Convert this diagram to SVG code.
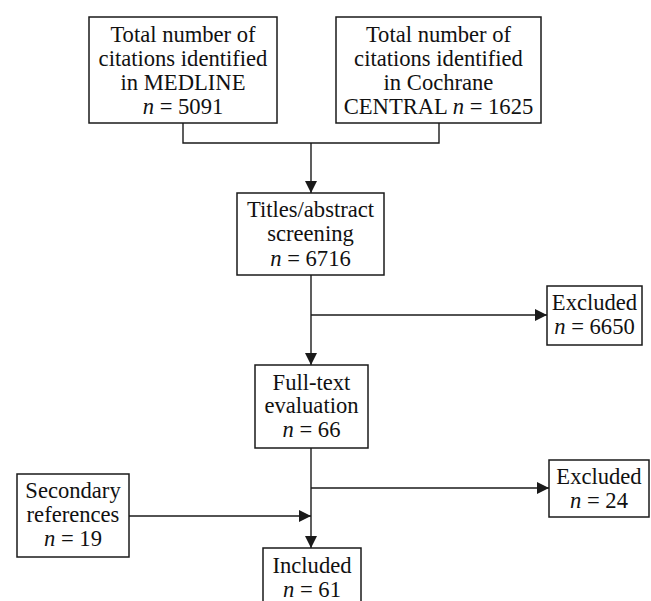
<svg xmlns="http://www.w3.org/2000/svg" width="651" height="601" viewBox="0 0 651 601">
<style>
.box{fill:#fff;stroke:#1a1a1a;stroke-width:1.5}
.t{font-family:"Liberation Serif","Times New Roman",serif;font-size:22.6px;fill:#111;text-anchor:middle}
.i{font-style:italic}
.c{fill:none;stroke:#1a1a1a;stroke-width:1.4}
</style>
<defs>
<marker id="ah" markerUnits="userSpaceOnUse" markerWidth="12" markerHeight="12" refX="12" refY="6" orient="auto">
<path d="M0,0 L12,6 L0,12 Z" fill="#1a1a1a"/>
</marker>
</defs>
<rect width="651" height="601" fill="#fff"/>
<g id="connectors">
<path class="c" d="M183,123 V143 H439 V123"/>
<line class="c" x1="311" y1="143" x2="311" y2="193" marker-end="url(#ah)"/>
<line class="c" x1="311" y1="275" x2="311" y2="365" marker-end="url(#ah)"/>
<line class="c" x1="311" y1="315" x2="547" y2="315" marker-end="url(#ah)"/>
<line class="c" x1="311" y1="448" x2="311" y2="548" marker-end="url(#ah)"/>
<line class="c" x1="311" y1="488" x2="549" y2="488" marker-end="url(#ah)"/>
<line class="c" x1="129" y1="516" x2="311" y2="516" marker-end="url(#ah)"/>
</g>
<g id="medline">
<rect class="box" x="89" y="17" width="188" height="106"/>
<text class="t" x="183" y="42">Total number of</text>
<text class="t" x="183" y="66">citations identified</text>
<text class="t" x="183" y="90">in MEDLINE</text>
<text class="t" x="183" y="114"><tspan class="i">n</tspan> = 5091</text>
</g>
<g id="cochrane">
<rect class="box" x="336" y="17" width="205" height="106"/>
<text class="t" x="438.5" y="42">Total number of</text>
<text class="t" x="438.5" y="66">citations identified</text>
<text class="t" x="438.5" y="90">in Cochrane</text>
<text class="t" x="438.5" y="114">CENTRAL <tspan class="i">n</tspan> = 1625</text>
</g>
<g id="titles">
<rect class="box" x="237" y="193" width="147" height="82"/>
<text class="t" x="310.5" y="217">Titles/abstract</text>
<text class="t" x="310.5" y="241">screening</text>
<text class="t" x="310.5" y="266"><tspan class="i">n</tspan> = 6716</text>
</g>
<g id="excluded1">
<rect class="box" x="547" y="286" width="95" height="59"/>
<text class="t" x="594.5" y="310">Excluded</text>
<text class="t" x="594.5" y="334"><tspan class="i">n</tspan> = 6650</text>
</g>
<g id="fulltext">
<rect class="box" x="255" y="365" width="113" height="83"/>
<text class="t" x="311.5" y="390">Full-text</text>
<text class="t" x="311.5" y="413">evaluation</text>
<text class="t" x="311.5" y="437"><tspan class="i">n</tspan> = 66</text>
</g>
<g id="excluded2">
<rect class="box" x="549" y="460" width="100" height="57"/>
<text class="t" x="599" y="484">Excluded</text>
<text class="t" x="599" y="508"><tspan class="i">n</tspan> = 24</text>
</g>
<g id="secondary">
<rect class="box" x="17" y="474" width="112" height="83"/>
<text class="t" x="73" y="498">Secondary</text>
<text class="t" x="73" y="522">references</text>
<text class="t" x="73" y="546"><tspan class="i">n</tspan> = 19</text>
</g>
<g id="included">
<rect class="box" x="263" y="548" width="98" height="80"/>
<text class="t" x="312" y="573">Included</text>
<text class="t" x="312" y="597"><tspan class="i">n</tspan> = 61</text>
</g>
</svg>
